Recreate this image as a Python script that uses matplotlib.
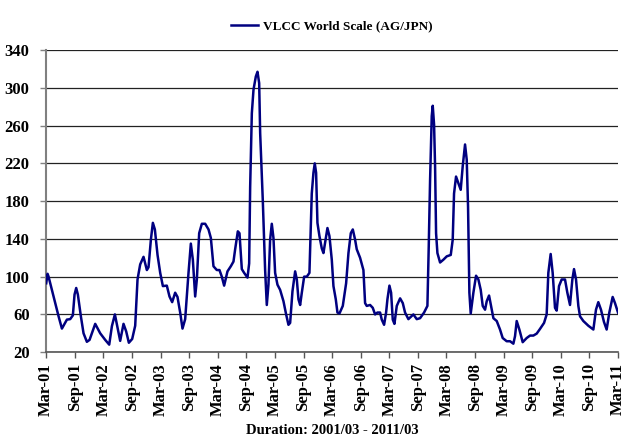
import matplotlib.pyplot as plt
import numpy as np

# months since Mar-2001
months = [0.00, 0.28, 0.49, 1.54, 2.59, 3.29, 4.34, 5.03, 5.59, 5.94, 6.29, 6.64,
          7.27, 7.83, 8.53, 9.09, 10.28, 11.33, 12.38, 13.22, 13.78, 14.41, 14.97,
          15.52, 16.22, 16.78, 17.34, 18.04, 18.67, 19.16, 19.72, 20.42, 21.12,
          21.47, 21.96, 22.38, 22.80, 23.36, 23.92, 24.48, 25.31, 25.87, 26.43,
          27.06, 27.55, 28.11, 28.60, 29.16, 29.86, 30.35, 30.77, 31.26, 31.61,
          32.10, 32.66, 33.36, 34.06, 34.55, 35.10, 35.80, 36.36, 36.85, 37.34,
          38.04, 38.74, 39.30, 39.65, 40.21, 40.56, 41.05, 41.54, 42.24, 42.59,
          42.80, 43.15, 43.50, 43.99, 44.34, 44.69, 44.90, 45.45, 45.94, 46.29,
          46.64, 46.99, 47.34, 47.69, 48.04, 48.53, 49.09, 49.79, 50.35, 50.84,
          51.19, 51.68, 52.24, 52.59, 52.94, 53.29, 53.64, 54.13, 54.69, 55.24,
          55.73, 56.08, 56.36, 56.64, 56.92, 57.34, 57.83, 58.18, 58.53, 59.02,
          59.44, 59.93, 60.28, 60.77, 61.12, 61.54, 62.24, 62.94, 63.43, 63.92,
          64.34, 64.83, 65.17, 65.87, 66.57, 66.92, 67.27, 67.97, 68.53, 69.02,
          69.51, 70.07, 70.42, 70.91, 71.33, 71.61, 72.03, 72.38, 72.73, 73.08,
          73.57, 74.27, 74.83, 75.31, 76.01, 77.06, 77.76, 78.46, 79.30, 80.00,
          80.28, 80.56, 80.91, 81.12, 81.40, 81.61, 81.82, 82.10, 82.66, 83.36,
          84.06, 84.90, 85.31, 85.59, 86.01, 86.50, 86.99, 87.41, 87.90, 88.25,
          88.53, 88.81, 89.09, 89.65, 90.21, 90.70, 91.19, 91.61, 92.10, 92.45,
          92.94, 93.36, 93.85, 94.55, 95.24, 95.80, 96.64, 97.34, 98.04, 98.39,
          98.74, 99.30, 100.00, 100.84, 101.54, 102.24, 102.94, 103.64, 104.48,
          105.03, 105.38, 105.87, 106.29, 106.78, 107.13, 107.62, 108.18, 108.88,
          109.37, 109.93, 110.42, 110.77, 111.19, 111.68, 112.03, 112.73, 113.78,
          114.83, 115.38, 115.87, 116.43, 117.06, 117.62, 118.18, 118.88, 119.37,
          120.00]

worldscale = [93, 103, 100, 79, 58, 45, 54.5, 55, 59, 81, 88, 81,
              58, 40, 31, 33, 50, 40, 33, 28, 47.5, 60, 46,
              32, 50, 42, 30, 34, 48, 97, 113, 121, 107,
              110, 139, 157, 150, 123, 104, 90, 90.5, 79, 73,
              83, 78.5, 62, 45, 55, 104, 135, 118, 79, 97,
              146, 156, 156, 150, 141, 111, 107, 107, 100, 90.5,
              105.6, 111, 116, 129, 148, 146, 108, 104, 99, 114,
              195, 273, 298, 312, 317, 305, 252, 181, 107, 70,
              91.5, 139, 156, 141, 104, 91.5, 86, 74, 60, 49,
              51, 84.5, 105.6, 97, 76, 70, 83, 100, 100, 104,
              188, 210, 220, 210, 157, 143, 130, 125, 136, 151.5,
              143, 118, 90, 76, 62, 61, 69, 93, 125, 146,
              150, 139, 129, 120, 107, 72, 69, 70, 67, 60,
              62, 62, 54.5, 49, 62, 76, 90.5, 83, 54.5, 50,
              69, 77, 72, 62, 55, 60, 55, 56, 62, 69,
              132, 202, 270, 281, 261, 217, 146, 125, 115, 118,
              121.5, 123, 139, 188, 206, 199, 192, 217, 240, 224,
              174, 83, 61, 83, 101, 97, 86, 69, 65, 74,
              80, 69, 56, 53, 44, 35, 31.6, 31.6, 29, 37,
              53, 44, 30.6, 35, 37.6, 37.6, 39.7, 44.7, 51,
              60, 104, 124, 104, 67, 64, 90, 97, 97,
              83, 70, 97, 108, 97, 69, 58, 53, 48,
              44, 65, 73, 65, 52, 44, 62, 78.5, 72,
              62]

tick_labels = ['Mar-01', 'Sep-01', 'Mar-02', 'Sep-02', 'Mar-03', 'Sep-03', 'Mar-04',
               'Sep-04', 'Mar-05', 'Sep-05', 'Mar-06', 'Sep-06', 'Mar-07', 'Sep-07',
               'Mar-08', 'Sep-08', 'Mar-09', 'Sep-09', 'Mar-10', 'Sep-10', 'Mar-11']

plt.rcParams['font.family'] = ['Liberation Serif', 'DejaVu Serif']
plt.rcParams['font.weight'] = 'bold'

fig = plt.figure(figsize=(6.29, 4.43), dpi=100)
ax = fig.add_axes([0.0735, 0.205, 0.909, 0.682])

ax.plot(months, worldscale, color='#000080', linewidth=1.8,
        label='VLCC World Scale (AG/JPN)', zorder=3)

ax.set_xlim(0, 120)
ax.set_ylim(20, 340)
ax.set_yticks(np.arange(20, 341, 40))
ax.set_xticks(np.arange(0, 121, 6))
ax.set_xticklabels(tick_labels, rotation=90, fontsize=12, fontweight='bold')
for lbl in ax.get_yticklabels():
    lbl.set_fontsize(12)
    lbl.set_fontweight('bold')

ax.yaxis.grid(True, color='#222222', linewidth=0.9)
ax.set_axisbelow(True)
ax.tick_params(axis='y', length=4, width=1, color='#808080', pad=8)
ax.tick_params(axis='x', length=4, width=1, color='#555555', pad=4)

ax.spines['top'].set_visible(False)
ax.spines['right'].set_visible(False)
ax.spines['left'].set_color('#808080')
ax.spines['left'].set_linewidth(1.5)
ax.spines['bottom'].set_color('#555555')
ax.spines['bottom'].set_linewidth(1.2)

ax.set_xlabel('Duration: 2001/03 - 2011/03', fontsize=10.5, fontweight='bold', labelpad=6)

ax.legend(loc='lower center', bbox_to_anchor=(0.50, 1.02), frameon=False,
          handlelength=2.0, handletextpad=0.4, prop={'weight': 'bold', 'size': 9.5})

fig.savefig('out.png', dpi=100)
